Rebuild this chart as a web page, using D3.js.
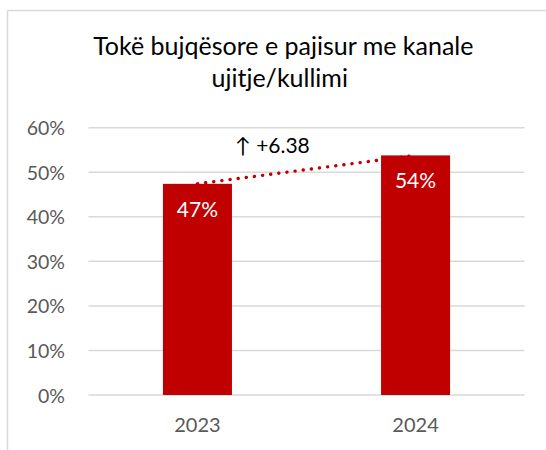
<!DOCTYPE html>
<html>
<head>
<meta charset="utf-8">
<script src="https://cdn.jsdelivr.net/npm/d3@7"></script>
<style>
  html, body { margin: 0; padding: 0; background: #fff; }
  svg { display: block; }
  text { font-family: Lato, "Open Sans", sans-serif; }
</style>
</head>
<body>
<div id="chart"></div>
<script>
// ---- data ----
const titleLines = ["Tokë bujqësore e pajisur me kanale", "ujitje/kullimi"];
const years = ["2023", "2024"];
const values = [47.40, 53.78];          // percent
const yTicks = [0, 10, 20, 30, 40, 50, 60];
const changeLabel = "↑ +6.38";

// ---- layout ----
const W = 546, H = 450;
const svg = d3.select("#chart").append("svg").attr("width", W).attr("height", H);

// chart frame (top and left edges visible)
svg.append("line").attr("x1", 7.5).attr("x2", W).attr("y1", 10.5).attr("y2", 10.5)
  .attr("stroke", "#d9d9d9").attr("stroke-width", 1.5);
svg.append("line").attr("x1", 7.5).attr("x2", 7.5).attr("y1", 10.5).attr("y2", H)
  .attr("stroke", "#d9d9d9").attr("stroke-width", 1.5);

const x = d3.scaleBand().domain(years).range([88.4, 524.6])
  .paddingInner(0.6836).paddingOuter(0.3418);
const y = d3.scaleLinear().domain([0, 60]).range([395, 127.7]);

// title
svg.append("text").attr("x", 283.3).attr("y", 55).attr("text-anchor", "middle")
  .attr("font-size", 25).attr("fill", "#000").text(titleLines[0]);
svg.append("text").attr("x", 279.7).attr("y", 86.7).attr("text-anchor", "middle")
  .attr("font-size", 25).attr("fill", "#000").text(titleLines[1]);

// gridlines
svg.append("g").selectAll("line").data(yTicks).join("line")
  .attr("x1", 88.4).attr("x2", 524.6)
  .attr("y1", d => y(d)).attr("y2", d => y(d))
  .attr("stroke", "#d9d9d9").attr("stroke-width", 1.5);

// y axis labels
const yAxis = d3.axisLeft(y).tickValues(yTicks).tickFormat(d => d + "%").tickSize(0).tickPadding(0);
const gy = svg.append("g").attr("transform", "translate(65,0)").call(yAxis);
gy.select(".domain").remove();
gy.selectAll("text").attr("font-family", "Lato, sans-serif").attr("font-size", 19.5)
  .attr("fill", "#595959").attr("dy", "0.36em");

// x axis labels
const xAxis = d3.axisBottom(x).tickSize(0).tickPadding(0);
const gx = svg.append("g").attr("transform", "translate(0,395)").call(xAxis);
gx.select(".domain").remove();
gx.selectAll("text").attr("font-family", "Lato, sans-serif").attr("font-size", 20)
  .attr("fill", "#595959").attr("dy", null).attr("y", 37.3);

// dotted trend line between bar tops
const pts = years.map((yr, i) => [x(yr) + x.bandwidth() / 2, y(values[i])]);
svg.append("path").attr("d", d3.line()(pts))
  .attr("fill", "none").attr("stroke", "#C00000").attr("stroke-width", 3.4)
  .attr("stroke-linecap", "round").attr("stroke-dasharray", "0.1 8.1");

// bars
svg.append("g").selectAll("rect").data(years).join("rect")
  .attr("x", d => x(d)).attr("width", x.bandwidth())
  .attr("y", (d, i) => y(values[i])).attr("height", (d, i) => y(0) - y(values[i]))
  .attr("fill", "#C00000");

// data labels
svg.append("g").selectAll("text").data(years).join("text")
  .attr("x", d => x(d) + x.bandwidth() / 2)
  .attr("y", (d, i) => y(values[i]) + 33)
  .attr("text-anchor", "middle").attr("font-size", 21).attr("fill", "#fff")
  .text((d, i) => Math.round(values[i]) + "%");

// change annotation
svg.append("text").attr("x", 235).attr("y", 153.3)
  .attr("font-size", 21).attr("fill", "#000").text(changeLabel);
</script>
</body>
</html>
